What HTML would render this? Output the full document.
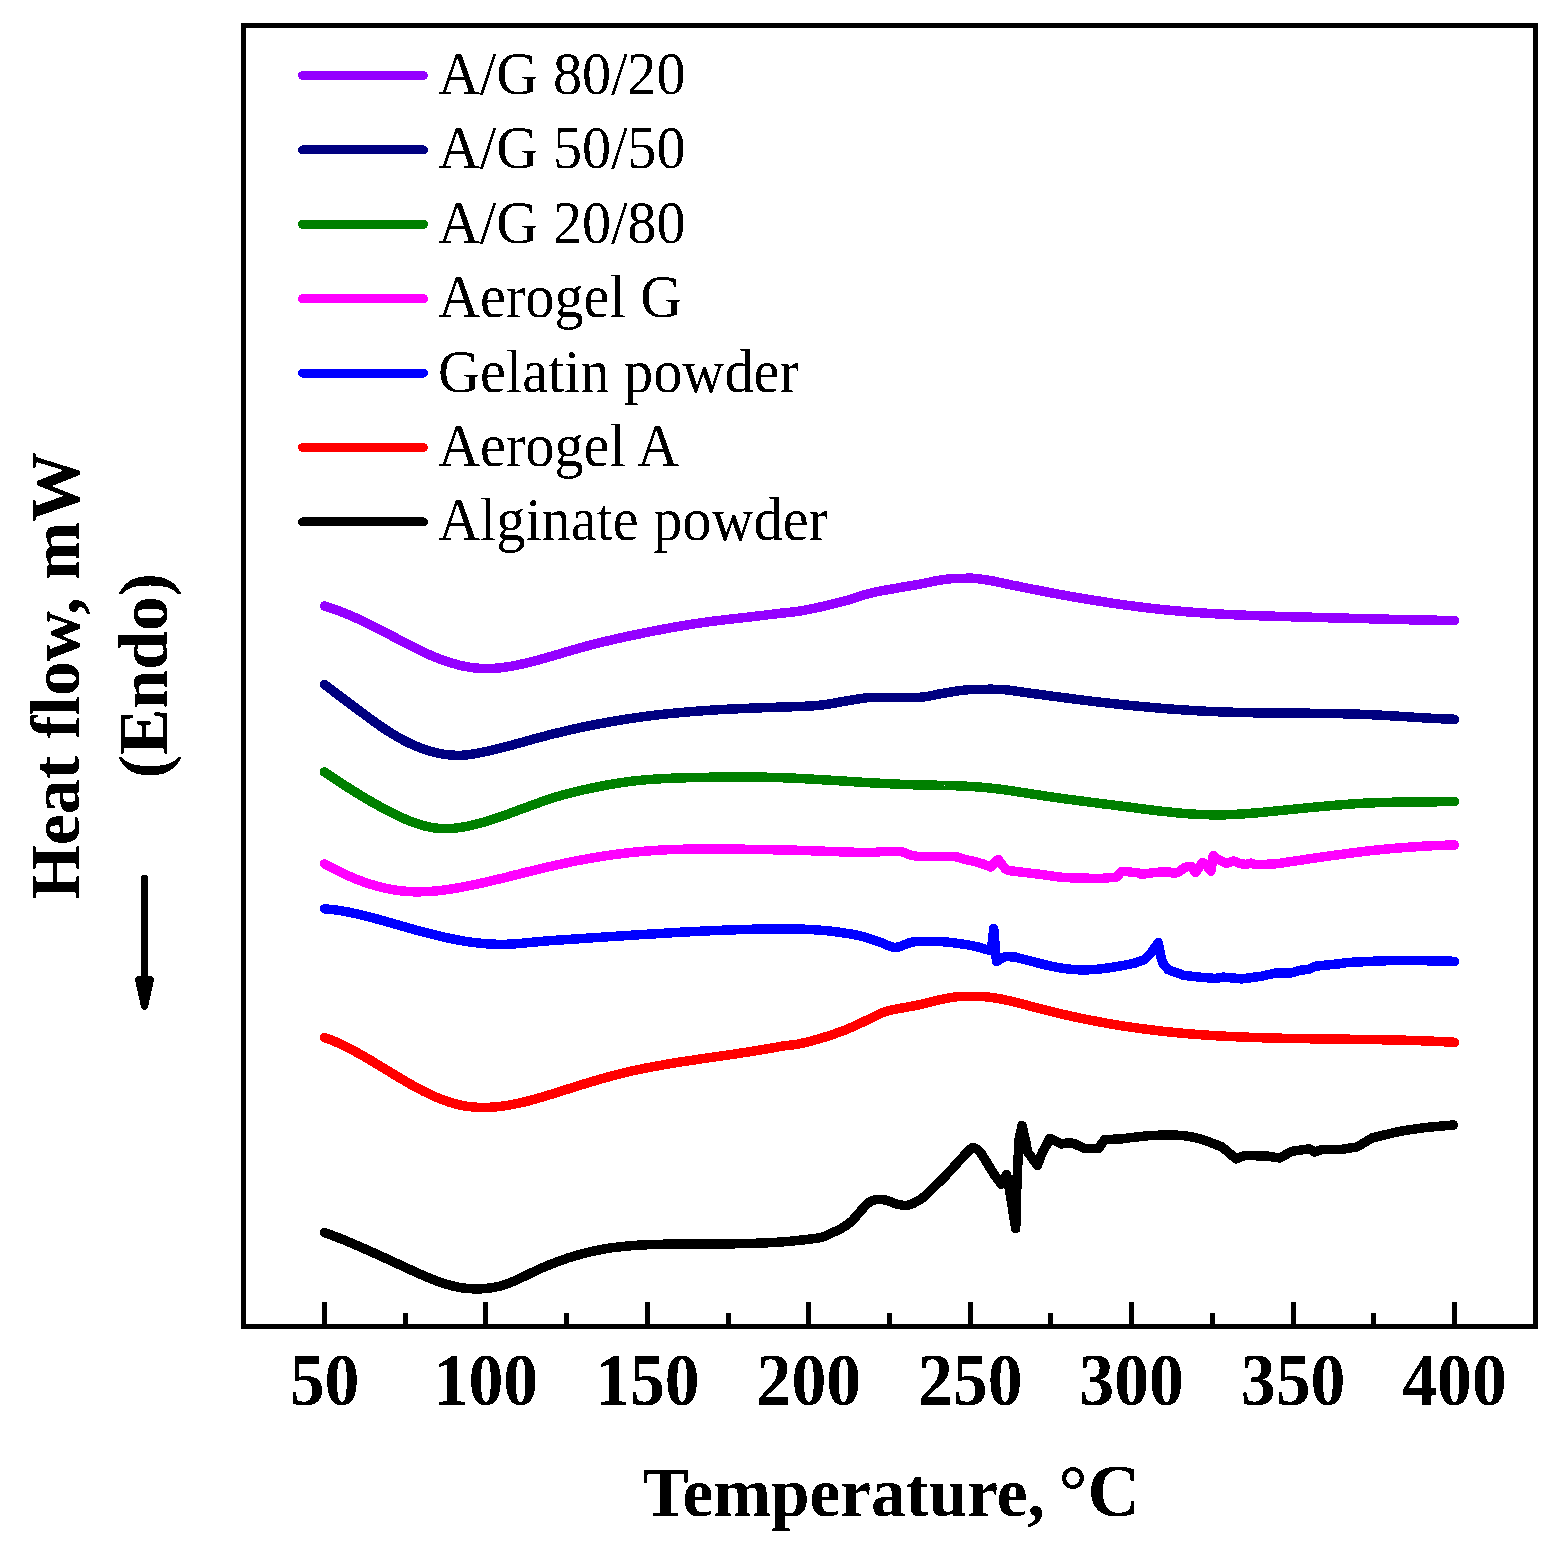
<!DOCTYPE html>
<html>
<head>
<meta charset="utf-8">
<title>DSC thermograms</title>
<style>
html,body{margin:0;padding:0;background:#fff;}
body{width:1550px;height:1542px;overflow:hidden;}
svg{display:block;}
text{font-family:"Liberation Serif","DejaVu Serif",serif;fill:#000;}
.b{font-weight:bold;font-size:70.5px;text-anchor:middle;}
.tick{font-weight:bold;font-size:73px;text-anchor:middle;}
.leg{font-size:62px;}
.c{fill:none;stroke-width:9.5;stroke-linecap:round;stroke-linejoin:round;}
</style>
</head>
<body>
<svg width="1550" height="1542" viewBox="0 0 1550 1542">
<defs>
<filter id="bw" filterUnits="userSpaceOnUse" x="0" y="0" width="1550" height="1542" color-interpolation-filters="sRGB">
<feComponentTransfer><feFuncA type="discrete" tableValues="0 1"/></feComponentTransfer>
</filter>
</defs>
<rect x="0" y="0" width="1550" height="1542" fill="#fff"/>
<!-- curves -->
<g id="curves" class="c" shape-rendering="crispEdges">
<path id="c-black" stroke="#000000" d="M324.5 1232.5C326.2 1233.1 331.1 1234.9 334.4 1236.2C337.7 1237.5 341 1238.8 344.3 1240.1C347.6 1241.5 350.9 1242.9 354.2 1244.3C357.5 1245.7 360.8 1247.1 364.1 1248.6C367.4 1250 370.7 1251.5 374 1253C377.3 1254.5 380.6 1256 383.9 1257.5C387.2 1259 390.5 1260.5 393.8 1262.1C397.1 1263.6 400.4 1265.1 403.7 1266.6C407 1268.2 410.3 1269.7 413.6 1271.2C416.9 1272.7 420.2 1274.2 423.5 1275.6C426.8 1277 430.1 1278.4 433.4 1279.7C436.7 1281 440 1282.2 443.4 1283.2C446.7 1284.3 450 1285.3 453.3 1286.1C456.6 1286.8 459.9 1287.5 463.2 1288C466.5 1288.4 469.8 1288.7 473.1 1288.8C476.4 1288.9 479.7 1288.9 483 1288.7C486.3 1288.4 489.6 1288.1 492.9 1287.6C496.2 1287 499.5 1286.3 502.8 1285.3C506.1 1284.3 509.4 1283 512.7 1281.7C516 1280.3 519.3 1278.7 522.6 1277.1C525.9 1275.6 529.2 1273.9 532.5 1272.3C535.8 1270.8 539.1 1269.2 542.4 1267.8C545.7 1266.3 549 1265 552.3 1263.7C555.6 1262.4 558.9 1261.1 562.2 1260C565.5 1258.8 568.8 1257.7 572.1 1256.7C575.4 1255.7 578.7 1254.8 582 1253.9C585.3 1253 588.6 1252.2 591.9 1251.5C595.2 1250.7 598.5 1250.1 601.8 1249.4C605.1 1248.8 608.4 1248.3 611.7 1247.8C615 1247.4 618.3 1247 621.6 1246.6C624.9 1246.2 628.2 1245.9 631.5 1245.7C634.8 1245.4 638.1 1245.2 641.4 1245C644.7 1244.9 648 1244.7 651.3 1244.6C654.6 1244.5 657.9 1244.4 661.2 1244.3C664.5 1244.2 667.8 1244.2 671.1 1244.1C674.5 1244.1 677.8 1244 681.1 1244C684.4 1244 687.7 1244 691 1243.9C694.3 1243.9 697.6 1243.9 700.9 1243.9C704.2 1243.9 707.5 1243.9 710.8 1243.9C714.1 1243.9 717.4 1243.9 720.7 1243.9C724 1243.8 727.3 1243.8 730.6 1243.8C733.9 1243.8 737.2 1243.7 740.5 1243.7C743.8 1243.6 747.1 1243.5 750.4 1243.4C753.7 1243.4 757 1243.2 760.3 1243.1C763.6 1243 766.9 1242.8 770.2 1242.7C773.5 1242.5 776.8 1242.3 780.1 1242.1C783.4 1241.8 788.3 1241.4 790 1241.3C795 1240.7 813.3 1239 820 1237.7C826.7 1236.4 826.9 1235 830.3 1233.5C833.7 1232 837.1 1230.9 840.6 1228.9C844.1 1226.9 847.5 1224.8 851 1221.7C854.5 1218.6 858.7 1213.2 861.3 1210.3C863.9 1207.4 864.8 1206.1 866.5 1204.6C868.2 1203 869.4 1201.9 871.6 1201C873.8 1200.1 877.3 1199.4 879.9 1199.3C882.5 1199.2 884.2 1199.7 887.1 1200.5C890 1201.3 894.3 1203.4 897.4 1204.2C900.5 1205 903.1 1205.6 905.7 1205.5C908.3 1205.4 910 1204.9 912.9 1203.6C915.8 1202.2 919.8 1200.1 923.2 1197.4C926.6 1194.7 930 1190.9 933.5 1187.6C937 1184.3 940.4 1181 943.9 1177.5C947.4 1174 950.8 1170.2 954.2 1166.5C957.6 1162.8 961.9 1157.9 964.5 1155.1C967.1 1152.3 968.2 1151 969.7 1149.7C971.2 1148.5 972.1 1147.2 973.8 1147.6C975.5 1148 978 1149.8 980 1152C982 1154.2 983.5 1157.2 985.8 1160.9C988.1 1164.6 992.6 1172.1 994 1174.3L1001.3 1184.2L1006.5 1174.5L1009.4 1189L1015.7 1228.6L1017 1180L1019 1140L1022 1125.4L1025.6 1141L1027.7 1152L1037.4 1165.4L1042.6 1151.6L1046 1146L1049.8 1138.4L1061.2 1143.9L1068.4 1142.8L1073.5 1143.3L1083.9 1148.3L1094.2 1148.5L1098.3 1148.7L1104.5 1139.7C1107.4 1139.5 1119.1 1139 1122 1138.8C1127 1138.2 1142 1136 1152 1135.5C1162 1135 1173.7 1134.8 1182 1135.5C1190.3 1136.2 1195.3 1137.6 1202 1139.5C1208.7 1141.4 1218.7 1145.8 1222 1147C1224.3 1149 1233.7 1156.8 1236 1158.8L1244.5 1155.5L1267 1156L1279.5 1158L1292 1151.3L1309.5 1148.8L1314.5 1152L1322 1149.3L1342 1149.3L1357 1147C1359.5 1145.5 1369.5 1139.5 1372 1138C1376.2 1137 1388.7 1133.7 1397 1132C1405.3 1130.3 1412.6 1129.2 1422 1128C1431.4 1126.8 1448.2 1125.5 1453.5 1125"/>
<path id="c-red" stroke="#ff0000" d="M324.5 1037.5C326.2 1038.1 331.1 1039.9 334.5 1041.3C337.8 1042.8 341.1 1044.3 344.4 1045.9C347.7 1047.5 351.1 1049.3 354.4 1051.1C357.7 1052.8 361 1054.7 364.3 1056.6C367.7 1058.5 371 1060.5 374.3 1062.5C377.6 1064.5 380.9 1066.5 384.3 1068.6C387.6 1070.6 390.9 1072.6 394.2 1074.6C397.5 1076.6 400.9 1078.6 404.2 1080.5C407.5 1082.5 410.8 1084.4 414.1 1086.2C417.4 1088 420.8 1089.8 424.1 1091.5C427.4 1093.1 430.7 1094.7 434 1096.2C437.4 1097.7 440.7 1099 444 1100.3C447.3 1101.5 450.6 1102.6 454 1103.5C457.3 1104.4 460.6 1105.2 463.9 1105.8C467.2 1106.4 470.6 1106.8 473.9 1107.1C477.2 1107.3 480.5 1107.5 483.8 1107.5C487.2 1107.4 490.5 1107.3 493.8 1107C497.1 1106.8 500.4 1106.4 503.8 1105.9C507.1 1105.5 510.4 1104.9 513.7 1104.2C517 1103.6 520.4 1102.8 523.7 1102.1C527 1101.3 530.3 1100.4 533.6 1099.5C537 1098.6 540.3 1097.6 543.6 1096.6C546.9 1095.6 550.2 1094.6 553.5 1093.6C556.9 1092.5 560.2 1091.5 563.5 1090.4C566.8 1089.4 570.1 1088.3 573.5 1087.3C576.8 1086.3 580.1 1085.2 583.4 1084.2C586.7 1083.2 590.1 1082.2 593.4 1081.2C596.7 1080.2 600 1079.2 603.3 1078.3C606.7 1077.4 610 1076.4 613.3 1075.6C616.6 1074.7 619.9 1073.8 623.3 1073C626.6 1072.2 629.9 1071.5 633.2 1070.7C636.5 1070 639.9 1069.3 643.2 1068.6C646.5 1067.9 649.8 1067.3 653.1 1066.7C656.5 1066.1 659.8 1065.5 663.1 1064.9C666.4 1064.3 669.7 1063.7 673.1 1063.2C676.4 1062.7 679.7 1062.1 683 1061.6C686.3 1061.1 689.7 1060.6 693 1060.1C696.3 1059.6 699.6 1059.1 702.9 1058.6C706.2 1058.1 709.6 1057.7 712.9 1057.2C716.2 1056.7 719.5 1056.2 722.8 1055.7C726.2 1055.3 729.5 1054.8 732.8 1054.3C736.1 1053.8 739.4 1053.3 742.8 1052.8C746.1 1052.3 749.4 1051.8 752.7 1051.2C756 1050.7 759.4 1050.2 762.7 1049.6C766 1049 769.3 1048.5 772.6 1047.9C776 1047.3 780.9 1046.3 782.6 1046C785.5 1045.6 793.2 1045.1 800 1043.7C806.8 1042.3 815.5 1040 823.2 1037.6C830.9 1035.2 838.6 1032.6 846.4 1029.5C854.1 1026.4 863.9 1021.5 869.7 1018.8C875.5 1016.1 877.4 1014.7 881.3 1013.2C885.2 1011.7 887.1 1011 892.9 1009.7C898.7 1008.4 908.4 1007 916.1 1005.4C923.9 1003.8 932.6 1001.2 939.4 999.8C946.2 998.3 951.7 997.3 956.8 996.7C961.9 996.1 967.8 996.4 970 996.3C971.7 996.3 976.7 996.2 980.1 996.4C983.5 996.5 986.8 996.9 990.2 997.3C993.6 997.7 996.9 998.3 1000.3 998.9C1003.6 999.5 1007 1000.3 1010.4 1001C1013.7 1001.8 1017.1 1002.7 1020.5 1003.5C1023.8 1004.4 1027.2 1005.3 1030.6 1006.2C1033.9 1007.1 1037.3 1008 1040.7 1008.9C1044 1009.7 1047.4 1010.6 1050.8 1011.4C1054.1 1012.3 1057.5 1013.1 1060.8 1013.9C1064.2 1014.6 1067.6 1015.4 1070.9 1016.1C1074.3 1016.9 1077.7 1017.6 1081 1018.3C1084.4 1019 1087.8 1019.7 1091.1 1020.3C1094.5 1021 1097.9 1021.6 1101.2 1022.2C1104.6 1022.9 1107.9 1023.5 1111.3 1024C1114.7 1024.6 1118 1025.2 1121.4 1025.7C1124.8 1026.2 1128.1 1026.7 1131.5 1027.2C1134.9 1027.7 1138.2 1028.2 1141.6 1028.6C1145 1029.1 1148.3 1029.5 1151.7 1029.9C1155.1 1030.4 1158.4 1030.8 1161.8 1031.1C1165.1 1031.5 1168.5 1031.9 1171.9 1032.2C1175.2 1032.6 1178.6 1032.9 1182 1033.2C1185.3 1033.5 1188.7 1033.8 1192.1 1034C1195.4 1034.3 1198.8 1034.6 1202.2 1034.8C1205.5 1035 1208.9 1035.3 1212.2 1035.5C1215.6 1035.7 1219 1035.9 1222.3 1036.1C1225.7 1036.3 1229.1 1036.4 1232.4 1036.6C1235.8 1036.8 1239.2 1036.9 1242.5 1037C1245.9 1037.2 1249.3 1037.3 1252.6 1037.4C1256 1037.5 1259.4 1037.7 1262.7 1037.8C1266.1 1037.9 1269.4 1038 1272.8 1038C1276.2 1038.1 1279.5 1038.2 1282.9 1038.3C1286.3 1038.3 1289.6 1038.4 1293 1038.5C1296.4 1038.5 1299.7 1038.6 1303.1 1038.6C1306.5 1038.7 1309.8 1038.8 1313.2 1038.8C1316.6 1038.8 1319.9 1038.9 1323.3 1038.9C1326.6 1039 1330 1039 1333.4 1039.1C1336.7 1039.1 1340.1 1039.1 1343.5 1039.2C1346.8 1039.2 1350.2 1039.3 1353.6 1039.3C1356.9 1039.4 1360.3 1039.4 1363.7 1039.4C1367 1039.5 1370.4 1039.5 1373.8 1039.6C1377.1 1039.7 1380.5 1039.7 1383.8 1039.8C1387.2 1039.8 1390.6 1039.9 1393.9 1040C1397.3 1040.1 1400.7 1040.2 1404 1040.2C1407.4 1040.3 1410.8 1040.4 1414.1 1040.5C1417.5 1040.6 1420.9 1040.8 1424.2 1040.9C1427.6 1041 1430.9 1041.1 1434.3 1041.3C1437.7 1041.4 1441 1041.6 1444.4 1041.8C1447.8 1041.9 1452.8 1042.2 1454.5 1042.3"/>
<path id="c-blue" stroke="#0000ff" d="M324.5 908.8C326.2 909 331.1 909.4 334.4 909.8C337.7 910.2 341 910.7 344.3 911.3C347.6 911.9 350.9 912.6 354.2 913.3C357.5 914 360.8 914.8 364.2 915.6C367.5 916.4 370.8 917.3 374.1 918.2C377.4 919.1 380.7 920 384 920.9C387.3 921.9 390.6 922.8 393.9 923.8C397.2 924.7 400.5 925.6 403.8 926.6C407.1 927.5 410.4 928.5 413.7 929.4C417 930.3 420.3 931.2 423.6 932.1C426.9 932.9 430.2 933.8 433.5 934.6C436.9 935.5 440.2 936.2 443.5 937C446.8 937.7 450.1 938.5 453.4 939.1C456.7 939.8 460 940.4 463.3 941C466.6 941.5 469.9 942 473.2 942.4C476.5 942.9 479.8 943.3 483.1 943.5C486.4 943.8 489.7 944.1 493 944.2C496.3 944.3 499.6 944.4 502.9 944.4C506.2 944.3 509.6 944.2 512.9 944C516.2 943.8 519.5 943.5 522.8 943.2C526.1 942.9 529.4 942.5 532.7 942.2C536 941.9 539.3 941.6 542.6 941.3C545.9 941 549.2 940.8 552.5 940.5C555.8 940.3 559.1 940.1 562.4 939.9C565.7 939.6 569 939.4 572.3 939.2C575.6 939 578.9 938.7 582.2 938.5C585.6 938.3 588.9 938.1 592.2 937.8C595.5 937.6 598.8 937.4 602.1 937.2C605.4 936.9 608.7 936.7 612 936.5C615.3 936.3 618.6 936.1 621.9 935.9C625.2 935.6 628.5 935.4 631.8 935.2C635.1 935 638.4 934.8 641.7 934.6C645 934.4 648.3 934.2 651.6 934C654.9 933.8 658.3 933.6 661.6 933.4C664.9 933.2 668.2 933 671.5 932.8C674.8 932.6 678.1 932.4 681.4 932.2C684.7 932.1 688 931.9 691.3 931.7C694.6 931.5 697.9 931.4 701.2 931.2C704.5 931 707.8 930.9 711.1 930.7C714.4 930.6 717.7 930.4 721 930.3C724.3 930.2 727.6 930 731 929.9C734.3 929.8 737.6 929.7 740.9 929.6C744.2 929.5 747.5 929.4 750.8 929.3C754.1 929.2 757.4 929.1 760.7 929.1C764 929 767.3 929 770.6 929C773.9 928.9 777.2 928.9 780.5 928.9C783.8 928.9 787.1 928.9 790.4 928.9C793.7 929 797 929 800.3 929.1C803.7 929.2 807 929.4 810.3 929.5C813.6 929.7 816.9 929.9 820.2 930.2C823.5 930.4 826.8 930.7 830.1 931.1C833.4 931.4 838.3 932.1 840 932.3C843.3 932.9 853.8 934.3 860 935.8C866.2 937.3 871.6 939.3 877.4 941.2C883.2 943.1 889.9 947 894.8 947.4C899.6 947.8 903 944.9 906.5 943.9C910 942.9 909.9 942 915.7 941.6C921.5 941.2 934.1 941.3 941.3 941.6C948.5 941.9 952.9 942.7 958.7 943.5C964.5 944.3 971.5 945.5 976.1 946.5C980.8 947.5 984.9 949.2 986.6 949.7L991.5 950L993.7 928.6L996.5 961.3L1005.2 956.6L1014.5 956.9C1016.8 957.5 1026.1 959.8 1028.4 960.4C1030 960.8 1034.8 962.2 1038 963C1041.2 963.8 1044.4 964.7 1047.6 965.4C1050.8 966.1 1054 966.8 1057.3 967.4C1060.5 968 1063.7 968.5 1066.9 968.9C1070.1 969.3 1073.3 969.6 1076.5 969.7C1079.7 969.9 1082.9 969.9 1086.1 969.9C1089.3 969.8 1092.5 969.6 1095.7 969.4C1098.9 969.1 1102.1 968.7 1105.3 968.3C1108.6 967.9 1111.8 967.4 1115 966.9C1118.2 966.4 1121.4 965.8 1124.6 965.2C1127.8 964.6 1132.6 963.6 1134.2 963.3C1135.8 962.7 1142.4 960.3 1144.1 959.7L1151.2 952.6L1158.3 942.6L1160.5 955L1162.6 963L1168.3 969.7L1183.9 975.4L1199.5 977.1L1215.1 978.5L1222.9 977.1L1242.1 978.9L1262 976.1L1274.7 973.2L1291.8 972.8L1298.9 970.4L1308.8 969.3L1315.9 966.1L1340 963.7C1341.2 963.5 1345.8 962.7 1347 962.5C1355.3 962.2 1379.1 960.7 1397 960.5C1414.9 960.3 1444.9 961.2 1454.5 961.3"/>
<path id="c-pink" stroke="#ff00ff" d="M324.5 863.8C326.2 864.7 331.1 867.4 334.4 869.1C337.7 870.8 341 872.5 344.3 874C347.6 875.5 350.9 877 354.2 878.3C357.5 879.7 360.8 880.9 364.1 882.1C367.4 883.2 370.7 884.3 374 885.3C377.3 886.2 380.6 887.1 383.9 887.8C387.2 888.6 390.5 889.3 393.8 889.8C397.1 890.4 400.4 890.8 403.7 891.1C407 891.4 410.3 891.7 413.6 891.8C416.9 891.9 420.2 891.8 423.5 891.7C426.8 891.6 430.1 891.4 433.4 891.2C436.7 890.9 440 890.5 443.4 890.1C446.7 889.7 450 889.2 453.3 888.6C456.6 888.1 459.9 887.5 463.2 886.9C466.5 886.3 469.8 885.6 473.1 884.9C476.4 884.2 479.7 883.5 483 882.8C486.3 882 489.6 881.3 492.9 880.5C496.2 879.7 499.5 878.9 502.8 878.1C506.1 877.3 509.4 876.4 512.7 875.6C516 874.8 519.3 874 522.6 873.1C525.9 872.3 529.2 871.5 532.5 870.7C535.8 869.9 539.1 869.1 542.4 868.3C545.7 867.5 549 866.7 552.3 866C555.6 865.2 558.9 864.5 562.2 863.8C565.5 863.1 568.8 862.4 572.1 861.7C575.4 861.1 578.7 860.4 582 859.8C585.3 859.2 588.6 858.6 591.9 858C595.2 857.4 598.5 856.9 601.8 856.4C605.1 855.9 608.4 855.4 611.7 854.9C615 854.4 618.3 854 621.6 853.6C624.9 853.2 628.2 852.8 631.5 852.4C634.8 852.1 638.1 851.8 641.4 851.5C644.7 851.2 648 850.9 651.3 850.7C654.6 850.4 657.9 850.2 661.2 850.1C664.5 849.9 667.8 849.7 671.1 849.6C674.5 849.5 677.8 849.3 681.1 849.3C684.4 849.2 687.7 849.1 691 849C694.3 849 697.6 848.9 700.9 848.9C704.2 848.9 707.5 848.9 710.8 848.9C714.1 848.9 717.4 848.9 720.7 848.9C724 849 727.3 849 730.6 849C733.9 849.1 737.2 849.1 740.5 849.2C743.8 849.2 747.1 849.3 750.4 849.4C753.7 849.4 757 849.5 760.3 849.5C763.6 849.6 766.9 849.7 770.2 849.7C773.5 849.8 776.8 849.8 780.1 849.9C783.4 849.9 788.3 850 790 850C798.3 850.3 828.3 851.4 840 851.8C851.7 852.2 853.8 852.3 860 852.4C866.2 852.5 873.7 852.4 877 852.3C880.3 852.1 876.2 851.6 880 851.5C883.8 851.4 895.8 851.2 900 851.5C904.2 851.8 902 852.2 905 853C908 853.8 910 855.8 918 856.4C926 857 945.2 855.9 953 856.4C960.8 856.9 961.2 858.6 965 859.5C968.8 860.4 972.2 860.8 976 861.8C979.8 862.8 985.8 865 987.7 865.6L990.5 867L998.2 859.4L1005.2 868.8C1006.2 869.1 1005.2 869.9 1011 870.8C1016.8 871.7 1031 873.2 1040 874.3C1049 875.4 1055 876.8 1065 877.5C1075 878.2 1094.2 878.3 1100 878.5L1111.6 877.5L1116.3 877.3L1121.5 871.6L1129 871.6L1131 872.4L1136.6 872.4L1141.8 874.3L1149 873.4L1154.6 872.4L1165 872L1169 872L1174 873.4L1179 871.7L1184 868L1187.7 866.4L1191 866.4L1195.5 872.4L1200 866L1202.8 862.5L1205.5 864L1210.9 871.2L1213.2 855.5L1217.3 859L1221.4 860.9L1225.4 863L1227.7 863.1L1233.5 860.9L1239.4 863.2L1245.2 864.5L1251 863.1L1253.3 863.9L1256.2 864.7L1264.9 864.4L1274.2 863.9L1280 863.3C1287 862.2 1315 858 1322 857C1330.3 855.9 1355.3 852.3 1372 850.5C1388.7 848.7 1408.2 847.2 1422 846.3C1435.8 845.4 1449.1 845.2 1454.5 845"/>
<path id="c-green" stroke="#008000" d="M324.5 772C326.2 773.1 331.2 776.5 334.5 778.7C337.8 780.9 341.2 783.1 344.5 785.3C347.8 787.4 351.2 789.5 354.5 791.6C357.8 793.7 361.2 795.7 364.5 797.7C367.8 799.7 371.2 801.6 374.5 803.5C377.8 805.4 381.2 807.2 384.5 809C387.8 810.8 391.2 812.5 394.5 814.1C397.8 815.8 401.2 817.4 404.5 818.8C407.8 820.2 411.2 821.6 414.5 822.8C417.8 824 421.2 825 424.5 825.9C427.8 826.7 431.2 827.4 434.5 827.9C437.8 828.4 441.2 828.6 444.5 828.6C447.8 828.7 451.2 828.5 454.5 828.2C457.8 827.9 461.2 827.4 464.5 826.8C467.8 826.2 471.2 825.4 474.5 824.6C477.8 823.8 481.2 822.8 484.5 821.9C487.8 820.9 491.2 819.8 494.5 818.7C497.8 817.6 501.2 816.5 504.5 815.3C507.8 814.1 511.2 812.9 514.5 811.7C517.8 810.4 521.2 809.2 524.5 808C527.8 806.7 531.2 805.5 534.5 804.3C537.8 803.1 541.2 801.9 544.5 800.7C547.8 799.6 551.2 798.5 554.5 797.4C557.8 796.4 561.2 795.4 564.5 794.5C567.8 793.6 571.2 792.7 574.5 791.9C577.8 791.1 581.2 790.3 584.5 789.6C587.8 788.9 591.2 788.1 594.5 787.5C597.8 786.8 601.2 786.1 604.5 785.5C607.8 784.9 611.2 784.3 614.5 783.7C617.8 783.2 621.2 782.7 624.5 782.2C627.8 781.7 631.2 781.3 634.5 780.9C637.8 780.6 641.2 780.2 644.5 779.9C647.8 779.6 651.2 779.4 654.5 779.2C657.8 778.9 661.2 778.7 664.5 778.6C667.8 778.4 671.2 778.3 674.5 778.1C677.8 778 681.2 777.9 684.5 777.8C687.8 777.7 691.2 777.6 694.5 777.6C697.8 777.5 701.2 777.4 704.5 777.3C707.8 777.3 711.2 777.2 714.5 777.2C717.8 777.1 721.2 777.1 724.5 777C727.8 777 731.2 777 734.5 777C737.8 777 741.2 777 744.5 777C747.8 777 751.2 777 754.5 777.1C757.8 777.1 761.2 777.2 764.5 777.2C767.8 777.3 771.2 777.4 774.5 777.5C777.8 777.6 781.2 777.7 784.5 777.8C787.8 778 791.2 778.1 794.5 778.2C797.8 778.4 801.2 778.6 804.5 778.7C807.8 778.9 811.2 779.1 814.5 779.3C817.8 779.5 821.2 779.7 824.5 779.9C827.8 780.1 831.2 780.3 834.5 780.5C837.8 780.7 841.2 780.9 844.5 781.1C847.8 781.3 851.2 781.5 854.5 781.8C857.8 782 861.2 782.2 864.5 782.4C867.8 782.6 871.2 782.8 874.5 783C877.8 783.1 881.2 783.3 884.5 783.5C887.8 783.7 891.2 783.8 894.5 784C897.8 784.2 901.2 784.3 904.5 784.4C907.8 784.6 911.2 784.7 914.5 784.8C917.8 784.9 921.2 784.9 924.5 785C927.8 785.1 931.2 785.2 934.5 785.2C937.8 785.3 941.2 785.4 944.5 785.5C947.8 785.5 951.2 785.6 954.5 785.7C957.8 785.9 961.2 786 964.5 786.1C967.8 786.3 971.2 786.5 974.5 786.7C977.8 786.9 981.2 787.2 984.5 787.5C987.8 787.8 991.2 788.2 994.5 788.5C997.8 788.9 1001.2 789.4 1004.5 789.8C1007.8 790.3 1011.2 790.8 1014.5 791.3C1017.8 791.8 1021.2 792.3 1024.5 792.8C1027.8 793.3 1031.2 793.9 1034.5 794.4C1037.8 794.9 1041.2 795.4 1044.5 795.9C1047.8 796.4 1051.2 796.9 1054.5 797.4C1057.8 797.9 1061.2 798.3 1064.5 798.8C1067.8 799.2 1071.2 799.7 1074.5 800.1C1077.8 800.5 1081.2 801 1084.5 801.4C1087.8 801.8 1091.2 802.3 1094.5 802.7C1097.8 803.1 1101.2 803.5 1104.5 804C1107.8 804.4 1111.2 804.8 1114.5 805.2C1117.8 805.7 1121.2 806.1 1124.5 806.5C1127.8 806.9 1131.2 807.4 1134.5 807.8C1137.8 808.3 1141.2 808.7 1144.5 809.1C1147.8 809.5 1151.2 810 1154.5 810.4C1157.8 810.8 1161.2 811.2 1164.5 811.5C1167.8 811.9 1171.2 812.2 1174.5 812.6C1177.8 812.9 1181.2 813.2 1184.5 813.5C1187.8 813.7 1191.2 814 1194.5 814.2C1197.8 814.4 1201.2 814.5 1204.5 814.6C1207.8 814.8 1211.2 814.8 1214.5 814.9C1217.8 814.9 1221.2 814.9 1224.5 814.8C1227.8 814.7 1231.2 814.6 1234.5 814.4C1237.8 814.3 1241.2 814.1 1244.5 813.8C1247.8 813.6 1251.2 813.3 1254.5 813C1257.8 812.8 1261.2 812.4 1264.5 812.1C1267.8 811.8 1271.2 811.5 1274.5 811.1C1277.8 810.8 1281.2 810.5 1284.5 810.1C1287.8 809.8 1291.2 809.4 1294.5 809.1C1297.8 808.8 1301.2 808.4 1304.5 808.1C1307.8 807.8 1311.2 807.5 1314.5 807.1C1317.8 806.8 1321.2 806.5 1324.5 806.2C1327.8 805.9 1331.2 805.6 1334.5 805.3C1337.8 805.1 1341.2 804.8 1344.5 804.5C1347.8 804.3 1351.2 804.1 1354.5 803.8C1357.8 803.6 1361.2 803.4 1364.5 803.2C1367.8 803.1 1371.2 802.9 1374.5 802.8C1377.8 802.6 1381.2 802.5 1384.5 802.4C1387.8 802.3 1391.2 802.3 1394.5 802.2C1397.8 802.1 1401.2 802.1 1404.5 802C1407.8 802 1411.2 801.9 1414.5 801.9C1417.8 801.9 1421.2 801.9 1424.5 801.8C1427.8 801.8 1431.2 801.8 1434.5 801.8C1437.8 801.7 1441.2 801.7 1444.5 801.7C1447.8 801.6 1452.8 801.5 1454.5 801.5"/>
<path id="c-navy" stroke="#000080" d="M324.5 684.5C326.2 685.8 331.1 689.5 334.4 692C337.7 694.5 341 697 344.3 699.5C347.6 701.9 350.9 704.4 354.2 706.9C357.5 709.3 360.8 711.8 364.2 714.3C367.5 716.7 370.8 719.2 374.1 721.6C377.4 724 380.7 726.3 384 728.5C387.3 730.7 390.6 732.9 393.9 734.8C397.2 736.8 400.5 738.7 403.8 740.4C407.1 742.1 410.4 743.7 413.7 745.2C417 746.6 420.3 747.9 423.6 749.1C426.9 750.2 430.2 751.3 433.5 752.1C436.9 752.9 440.2 753.6 443.5 754.2C446.8 754.7 450.1 755 453.4 755.2C456.7 755.4 460 755.4 463.3 755.2C466.6 755 469.9 754.5 473.2 754C476.5 753.5 479.8 752.8 483.1 752.1C486.4 751.5 489.7 750.7 493 749.9C496.3 749.1 499.6 748.3 502.9 747.4C506.2 746.6 509.6 745.7 512.9 744.8C516.2 743.9 519.5 743 522.8 742.1C526.1 741.2 529.4 740.2 532.7 739.3C536 738.4 539.3 737.5 542.6 736.7C545.9 735.8 549.2 734.9 552.5 734.1C555.8 733.3 559.1 732.5 562.4 731.7C565.7 730.9 569 730.1 572.3 729.4C575.6 728.7 578.9 727.9 582.2 727.2C585.6 726.5 588.9 725.9 592.2 725.2C595.5 724.5 598.8 723.9 602.1 723.3C605.4 722.7 608.7 722.1 612 721.5C615.3 720.9 618.6 720.4 621.9 719.9C625.2 719.3 628.5 718.8 631.8 718.3C635.1 717.8 638.4 717.4 641.7 716.9C645 716.5 648.3 716 651.6 715.6C654.9 715.2 658.3 714.8 661.6 714.5C664.9 714.1 668.2 713.7 671.5 713.4C674.8 713.1 678.1 712.8 681.4 712.5C684.7 712.2 688 711.9 691.3 711.6C694.6 711.4 697.9 711.1 701.2 710.9C704.5 710.6 707.8 710.4 711.1 710.2C714.4 710 717.7 709.8 721 709.6C724.3 709.4 727.6 709.2 731 709.1C734.3 708.9 737.6 708.8 740.9 708.6C744.2 708.5 747.5 708.3 750.8 708.2C754.1 708.1 757.4 707.9 760.7 707.8C764 707.7 767.3 707.6 770.6 707.5C773.9 707.3 777.2 707.2 780.5 707.1C783.8 707 787.1 706.9 790.4 706.8C793.7 706.7 797 706.6 800.3 706.5C803.7 706.3 807 706.2 810.3 706C813.6 705.8 816.9 705.5 820.2 705.2C823.5 704.8 826.8 704.4 830.1 703.9C833.4 703.4 838.3 702.3 840 702C844.2 701.3 859.2 698.8 865 698C870.8 697.2 865.8 697.6 875 697.5C884.2 697.4 909.2 697.9 920 697.3C930.8 696.7 932.5 695 940 693.8C947.5 692.6 957.5 690.8 965 690C972.5 689.2 978.8 689.4 985 689.3C991.2 689.2 997.5 689.2 1002.5 689.5C1007.5 689.8 1012.9 690.8 1015 691C1016.7 691.2 1021.7 692 1025 692.4C1028.3 692.9 1031.6 693.4 1035 693.8C1038.3 694.3 1041.6 694.7 1045 695.2C1048.3 695.6 1051.6 696.1 1055 696.5C1058.3 697 1061.6 697.4 1064.9 697.8C1068.3 698.3 1071.6 698.7 1074.9 699.1C1078.3 699.5 1081.6 700 1084.9 700.4C1088.2 700.8 1091.6 701.2 1094.9 701.6C1098.2 702 1101.6 702.3 1104.9 702.7C1108.2 703.1 1111.6 703.5 1114.9 703.8C1118.2 704.2 1121.5 704.5 1124.9 704.9C1128.2 705.2 1131.5 705.6 1134.9 705.9C1138.2 706.2 1141.5 706.5 1144.9 706.8C1148.2 707.2 1151.5 707.4 1154.8 707.7C1158.2 708 1161.5 708.3 1164.8 708.6C1168.2 708.8 1171.5 709.1 1174.8 709.3C1178.1 709.6 1181.5 709.8 1184.8 710C1188.1 710.2 1191.5 710.4 1194.8 710.6C1198.1 710.8 1201.5 711 1204.8 711.2C1208.1 711.4 1211.4 711.5 1214.8 711.6C1218.1 711.8 1221.4 711.9 1224.8 712C1228.1 712.1 1231.4 712.2 1234.8 712.3C1238.1 712.4 1241.4 712.5 1244.7 712.6C1248.1 712.6 1251.4 712.7 1254.7 712.8C1258.1 712.8 1261.4 712.8 1264.7 712.9C1268 712.9 1271.4 713 1274.7 713C1278 713 1281.4 713 1284.7 713.1C1288 713.1 1291.4 713.1 1294.7 713.1C1298 713.2 1301.3 713.2 1304.7 713.2C1308 713.2 1311.3 713.3 1314.7 713.3C1318 713.3 1321.3 713.4 1324.6 713.4C1328 713.5 1331.3 713.5 1334.6 713.6C1338 713.7 1341.3 713.7 1344.6 713.8C1348 713.9 1351.3 714 1354.6 714.1C1357.9 714.2 1361.3 714.3 1364.6 714.4C1367.9 714.6 1371.3 714.7 1374.6 714.9C1377.9 715 1381.2 715.2 1384.6 715.4C1387.9 715.6 1391.2 715.8 1394.6 716C1397.9 716.2 1401.2 716.4 1404.6 716.6C1407.9 716.8 1411.2 717.1 1414.5 717.3C1417.9 717.5 1421.2 717.7 1424.5 717.9C1427.9 718.1 1431.2 718.3 1434.5 718.4C1437.9 718.6 1441.2 718.8 1444.5 718.9C1447.8 719.1 1452.8 719.2 1454.5 719.3"/>
<path id="c-purple" stroke="#9400ff" d="M324.5 606C326.2 606.5 331.1 608.1 334.4 609.3C337.7 610.4 341 611.7 344.3 613C347.6 614.3 350.9 615.8 354.2 617.2C357.5 618.7 360.8 620.2 364.1 621.7C367.4 623.3 370.7 624.9 374 626.6C377.3 628.2 380.6 629.9 383.9 631.7C387.2 633.4 390.5 635.1 393.8 636.9C397.1 638.6 400.4 640.4 403.7 642.1C407 643.9 410.3 645.6 413.6 647.2C416.9 648.9 420.2 650.5 423.5 652.1C426.8 653.6 430.1 655.1 433.4 656.4C436.7 657.8 440 659.1 443.3 660.3C446.6 661.5 449.9 662.6 453.2 663.5C456.5 664.5 459.8 665.3 463.1 666C466.4 666.7 469.7 667.3 473 667.7C476.3 668.1 479.6 668.4 482.9 668.5C486.2 668.6 489.5 668.6 492.8 668.4C496.1 668.2 499.4 667.9 502.7 667.5C506 667.1 509.3 666.6 512.6 666C515.9 665.4 519.2 664.7 522.5 663.9C525.8 663.2 529.1 662.4 532.4 661.5C535.7 660.7 539 659.8 542.3 658.9C545.6 658 548.9 657 552.2 656C555.6 655.1 558.9 654.1 562.2 653.1C565.5 652.1 568.8 651.1 572.1 650.2C575.4 649.2 578.7 648.3 582 647.4C585.3 646.4 588.6 645.6 591.9 644.7C595.2 643.9 598.5 643 601.8 642.2C605.1 641.4 608.4 640.7 611.7 639.9C615 639.1 618.3 638.4 621.6 637.7C624.9 636.9 628.2 636.2 631.5 635.5C634.8 634.8 638.1 634.2 641.4 633.5C644.7 632.8 648 632.1 651.3 631.5C654.6 630.8 657.9 630.2 661.2 629.6C664.5 628.9 667.8 628.3 671.1 627.7C674.4 627.1 677.7 626.5 681 626C684.3 625.4 687.6 624.9 690.9 624.3C694.2 623.8 697.5 623.3 700.8 622.9C704.1 622.4 707.4 622 710.7 621.5C714 621.1 717.3 620.7 720.6 620.3C723.9 619.9 727.2 619.5 730.5 619.1C733.8 618.7 737.1 618.4 740.4 618C743.7 617.6 747 617.2 750.3 616.9C753.6 616.5 756.9 616.1 760.2 615.7C763.5 615.3 766.8 614.9 770.1 614.5C773.4 614.1 778.3 613.5 780 613.3C783.3 612.9 792.8 612.2 800 611C807.2 609.8 815.5 608.1 823.3 606.3C831.1 604.5 838.9 602.6 846.7 600.4C854.5 598.2 862.2 595.2 870 593.3C877.8 591.3 885.6 590.1 893.4 588.7C901.2 587.3 908.9 586.1 916.7 584.7C924.5 583.3 934.1 581.1 940 580.1C945.9 579.1 947.6 579 951.8 578.7C956 578.4 961.1 578.3 965 578.3C968.9 578.2 970.9 578 975.1 578.4C979.3 578.8 987.5 580.1 990 580.4C991.7 580.8 996.7 581.8 1000.1 582.5C1003.5 583.2 1006.8 584 1010.2 584.7C1013.6 585.4 1016.9 586 1020.3 586.7C1023.7 587.4 1027 588.1 1030.4 588.8C1033.8 589.4 1037.1 590.1 1040.5 590.7C1043.9 591.4 1047.2 592 1050.6 592.7C1054 593.3 1057.3 593.9 1060.7 594.6C1064.1 595.2 1067.4 595.8 1070.8 596.4C1074.1 597 1077.5 597.6 1080.9 598.1C1084.2 598.7 1087.6 599.3 1091 599.8C1094.3 600.4 1097.7 600.9 1101.1 601.4C1104.4 602 1107.8 602.5 1111.2 603C1114.5 603.5 1117.9 604 1121.3 604.5C1124.6 604.9 1128 605.4 1131.4 605.8C1134.7 606.3 1138.1 606.7 1141.5 607.1C1144.8 607.6 1148.2 608 1151.6 608.3C1154.9 608.7 1158.3 609.1 1161.7 609.5C1165 609.8 1168.4 610.1 1171.8 610.5C1175.1 610.8 1178.5 611.1 1181.9 611.4C1185.2 611.7 1188.6 611.9 1192 612.2C1195.3 612.5 1198.7 612.7 1202.1 612.9C1205.4 613.2 1208.8 613.4 1212.2 613.6C1215.5 613.8 1218.9 614 1222.2 614.2C1225.6 614.3 1229 614.5 1232.3 614.7C1235.7 614.8 1239.1 615 1242.4 615.1C1245.8 615.3 1249.2 615.4 1252.5 615.5C1255.9 615.7 1259.3 615.8 1262.6 615.9C1266 616 1269.4 616.1 1272.7 616.2C1276.1 616.3 1279.5 616.4 1282.8 616.5C1286.2 616.6 1289.6 616.7 1292.9 616.8C1296.3 616.9 1299.7 617 1303 617.1C1306.4 617.2 1309.8 617.2 1313.1 617.3C1316.5 617.4 1319.9 617.5 1323.2 617.6C1326.6 617.7 1330 617.8 1333.3 617.9C1336.7 617.9 1340.1 618 1343.4 618.1C1346.8 618.2 1350.2 618.3 1353.5 618.4C1356.9 618.5 1360.3 618.6 1363.6 618.6C1367 618.7 1370.4 618.8 1373.7 618.9C1377.1 619 1380.4 619.1 1383.8 619.2C1387.2 619.2 1390.5 619.3 1393.9 619.4C1397.3 619.5 1400.6 619.6 1404 619.6C1407.4 619.7 1410.7 619.8 1414.1 619.9C1417.5 619.9 1420.8 620 1424.2 620C1427.6 620.1 1430.9 620.2 1434.3 620.2C1437.7 620.3 1441 620.3 1444.4 620.4C1447.8 620.4 1452.8 620.5 1454.5 620.5"/>
</g>
<!-- frame -->
<rect x="243.5" y="25.5" width="1292" height="1301" fill="none" stroke="#000" stroke-width="5" shape-rendering="crispEdges"/>
<!-- ticks -->
<g stroke="#000" stroke-width="5" fill="none" id="ticks" shape-rendering="crispEdges">
<path d="M324.5 1302V1326M485.9 1302V1326M647.4 1302V1326M808.8 1302V1326M970.2 1302V1326M1131.6 1302V1326M1293.1 1302V1326M1454.5 1302V1326"/>
<path d="M405.2 1313V1326M566.6 1313V1326M728.1 1313V1326M889.5 1313V1326M1050.9 1313V1326M1212.4 1313V1326M1373.8 1313V1326"/>
</g>
<g id="alltext" filter="url(#bw)">
<!-- tick labels -->
<g id="ticklabels">
<text class="tick" transform="translate(324.5,1405) scale(0.955,1)">50</text>
<text class="tick" transform="translate(485.9,1405) scale(0.955,1)">100</text>
<text class="tick" transform="translate(647.4,1405) scale(0.955,1)">150</text>
<text class="tick" transform="translate(808.8,1405) scale(0.955,1)">200</text>
<text class="tick" transform="translate(970.2,1405) scale(0.955,1)">250</text>
<text class="tick" transform="translate(1131.6,1405) scale(0.955,1)">300</text>
<text class="tick" transform="translate(1293.1,1405) scale(0.955,1)">350</text>
<text class="tick" transform="translate(1454.5,1405) scale(0.955,1)">400</text>
</g>
<!-- axis titles -->
<text class="b" style="text-anchor:start" transform="translate(642.6,1516) scale(0.983,1)">Temperature, <tspan x="423" font-size="74">°C</tspan></text>
<text class="b" transform="translate(79,675.8) rotate(-90) scale(0.989,1)">Heat flow, mW</text>
<text class="b" transform="translate(166.8,675.7) rotate(-90) scale(0.989,1)">(Endo)</text>
</g>
<!-- arrow -->
<g id="arrow" shape-rendering="crispEdges" stroke="#000" stroke-width="7" stroke-linecap="round" stroke-linejoin="round" fill="#000">
<line x1="144.5" y1="878.2" x2="144.5" y2="985"/>
<path d="M138.5 979.5L150.5 979.5L144.5 1006.5Z"/>
</g>
<!-- legend -->
<g id="legend" class="c" style="stroke-width:9" shape-rendering="crispEdges">
<line x1="302.5" y1="75.5" x2="423.5" y2="75.5" stroke="#9400ff"/>
<line x1="302.5" y1="149.9" x2="423.5" y2="149.9" stroke="#000080"/>
<line x1="302.5" y1="224.3" x2="423.5" y2="224.3" stroke="#008000"/>
<line x1="302.5" y1="298.7" x2="423.5" y2="298.7" stroke="#ff00ff"/>
<line x1="302.5" y1="373.1" x2="423.5" y2="373.1" stroke="#0000ff"/>
<line x1="302.5" y1="447.5" x2="423.5" y2="447.5" stroke="#ff0000"/>
<line x1="302.5" y1="521.9" x2="423.5" y2="521.9" stroke="#000000"/>
</g>
<g id="legendtext" filter="url(#bw)">
<text class="leg" transform="translate(438,94.0) scale(0.94,1)">A/G 80/20</text>
<text class="leg" transform="translate(438,168.4) scale(0.94,1)">A/G 50/50</text>
<text class="leg" transform="translate(438,242.8) scale(0.94,1)">A/G 20/80</text>
<text class="leg" transform="translate(438,317.2) scale(0.94,1)">Aerogel G</text>
<text class="leg" transform="translate(438,391.6) scale(0.94,1)">Gelatin powder</text>
<text class="leg" transform="translate(438,466.0) scale(0.94,1)">Aerogel A</text>
<text class="leg" transform="translate(438,540.4) scale(0.94,1)">Alginate powder</text>
</g>
</svg>
</body>
</html>
